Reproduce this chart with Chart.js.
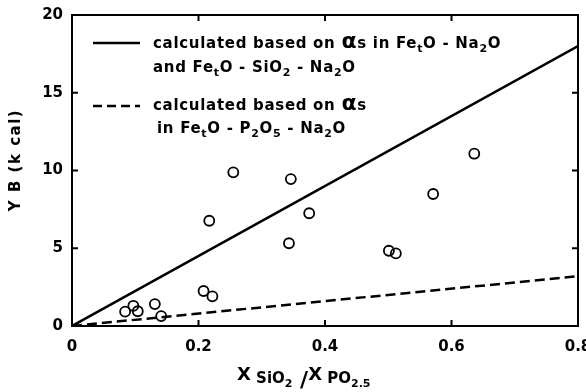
<!DOCTYPE html>
<html>
<head>
<meta charset="utf-8">
<script src="https://cdn.jsdelivr.net/npm/chart.js@4.4.1/dist/chart.umd.min.js"></script>
<style>
  html, body { margin: 0; padding: 0; background: #fff; }
</style>
</head>
<body>
<canvas id="chart" width="586" height="392"></canvas>
<script>
'use strict';

// measured points (open circles)
const pointX = [0.084, 0.097, 0.104, 0.131, 0.141, 0.208, 0.217, 0.222, 0.255, 0.343, 0.346, 0.375, 0.501, 0.512, 0.571, 0.636];
const pointY = [0.92, 1.30, 0.95, 1.41, 0.64, 2.25, 6.77, 1.91, 9.88, 5.32, 9.45, 7.25, 4.84, 4.67, 8.49, 11.08];

// calculated lines
const solidX = [0, 0.8];
const solidY = [0, 18];
const dashedX = [0, 0.8];
const dashedY = [0, 3.2];

// axes
const xTicks = [0, 0.2, 0.4, 0.6, 0.8];
const xTickLabels = ['0', '0.2', '0.4', '0.6', '0.8'];
const yTicks = [0, 5, 10, 15, 20];
const yTickLabels = ['0', '5', '10', '15', '20'];

// legend text: [text, kind]  n = normal, s = subscript, g = greek
const legendSolid = [
  [['calculated based on ', 'n'], ['\u03b1', 'g'], ['s in Fe', 'n'], ['t', 's'], ['O - Na', 'n'], ['2', 's'], ['O', 'n']],
  [['and Fe', 'n'], ['t', 's'], ['O - SiO', 'n'], ['2', 's'], [' - Na', 'n'], ['2', 's'], ['O', 'n']]
];
const legendDashed = [
  [['calculated based on ', 'n'], ['\u03b1', 'g'], ['s', 'n']],
  [['in Fe', 'n'], ['t', 's'], ['O - P', 'n'], ['2', 's'], ['O', 'n'], ['5', 's'], [' - Na', 'n'], ['2', 's'], ['O', 'n']]
];
const xTitle = [['X', 'big'], [' SiO', 'n'], ['2', 's'], [' /', 'slash'], ['X', 'big'], [' PO', 'n'], ['2.5', 's']];
const yTitle = 'Y B (k cal)';

const FAMILY = '"DejaVu Sans", sans-serif';
const fonts = {
  n: { size: 15, dy: 0 },
  s: { size: 11, dy: 4 },
  g: { size: 22, dy: 0 },
  big: { size: 18, dy: -3 },
  slash: { size: 22, dy: 4 }
};

function drawRich(ctx, x, y, parts, spacing) {
  ctx.letterSpacing = spacing + 'px';
  parts.forEach(([text, kind]) => {
    const f = fonts[kind];
    ctx.font = 'bold ' + f.size + 'px ' + FAMILY;
    ctx.fillText(text, x, y + f.dy);
    x += ctx.measureText(text).width;
  });
  ctx.letterSpacing = '0px';
}

const decorations = {
  id: 'decorations',
  afterDraw(chart) {
    const {ctx, chartArea: a, scales: {x, y}} = chart;
    ctx.save();
    ctx.strokeStyle = '#000';
    ctx.fillStyle = '#000';
    ctx.lineWidth = 2;
    ctx.strokeRect(a.left, a.top, a.right - a.left, a.bottom - a.top);

    // inward ticks on all four sides
    ctx.beginPath();
    xTicks.forEach((v) => {
      const px = x.getPixelForValue(v);
      ctx.moveTo(px, a.bottom); ctx.lineTo(px, a.bottom - 6);
      ctx.moveTo(px, a.top); ctx.lineTo(px, a.top + 6);
    });
    yTicks.forEach((v) => {
      const py = y.getPixelForValue(v);
      ctx.moveTo(a.left, py); ctx.lineTo(a.left + 6, py);
      ctx.moveTo(a.right, py); ctx.lineTo(a.right - 6, py);
    });
    ctx.stroke();

    // legend
    ctx.textBaseline = 'alphabetic';
    ctx.lineWidth = 2.5;
    ctx.beginPath();
    ctx.moveTo(93, 43); ctx.lineTo(140, 43);
    ctx.stroke();
    ctx.setLineDash([9, 5]);
    ctx.beginPath();
    ctx.moveTo(93, 106); ctx.lineTo(140, 106);
    ctx.stroke();
    ctx.setLineDash([]);
    drawRich(ctx, 153, 48, legendSolid[0], 0.7);
    drawRich(ctx, 153, 72, legendSolid[1], 0.7);
    drawRich(ctx, 153, 110, legendDashed[0], 0.7);
    drawRich(ctx, 157, 133, legendDashed[1], 0.7);

    // axis titles
    drawRich(ctx, 237, 383, xTitle, 0);
    ctx.translate(20, 160);
    ctx.rotate(-Math.PI / 2);
    ctx.font = 'bold 15px ' + FAMILY;
    ctx.letterSpacing = '1.5px';
    ctx.textAlign = 'center';
    ctx.fillText(yTitle, 0, 0);
    ctx.restore();
  }
};

new Chart(document.getElementById('chart').getContext('2d'), {
  type: 'scatter',
  data: {
    datasets: [
      {
        data: pointX.map((v, i) => ({x: v, y: pointY[i]})),
        pointStyle: 'circle',
        pointRadius: 5,
        borderColor: '#000',
        backgroundColor: 'rgba(255,255,255,0)',
        borderWidth: 1.8,
        order: 1
      },
      {
        type: 'line',
        data: solidX.map((v, i) => ({x: v, y: solidY[i]})),
        borderColor: '#000',
        borderWidth: 2.5,
        pointRadius: 0,
        fill: false,
        order: 2
      },
      {
        type: 'line',
        data: dashedX.map((v, i) => ({x: v, y: dashedY[i]})),
        borderColor: '#000',
        borderWidth: 2.5,
        borderDash: [10, 5],
        pointRadius: 0,
        fill: false,
        order: 3
      }
    ]
  },
  options: {
    responsive: false,
    animation: false,
    layout: { padding: { top: 15, right: 8, left: 0, bottom: 0 } },
    plugins: { legend: { display: false }, tooltip: { enabled: false } },
    scales: {
      x: {
        type: 'linear',
        min: 0,
        max: 0.8,
        afterFit: (scale) => { scale.height = 66; scale.paddingLeft = 0; scale.paddingRight = 0; },
        afterBuildTicks: (scale) => { scale.ticks = xTicks.map((v) => ({value: v})); },
        ticks: {
          padding: 12,
          color: '#000',
          font: { family: FAMILY, size: 15, weight: 'bold' },
          callback: (v) => xTickLabels[xTicks.indexOf(v)]
        },
        grid: { display: false, drawTicks: false },
        border: { display: false }
      },
      y: {
        min: 0,
        max: 20,
        afterFit: (scale) => { scale.width = 72; scale.paddingTop = 0; scale.paddingBottom = 0; },
        afterBuildTicks: (scale) => { scale.ticks = yTicks.map((v) => ({value: v})); },
        ticks: {
          padding: 9,
          color: '#000',
          font: { family: FAMILY, size: 15, weight: 'bold' },
          callback: (v) => yTickLabels[yTicks.indexOf(v)]
        },
        grid: { display: false, drawTicks: false },
        border: { display: false }
      }
    }
  },
  plugins: [decorations]
});
</script>
</body>
</html>
